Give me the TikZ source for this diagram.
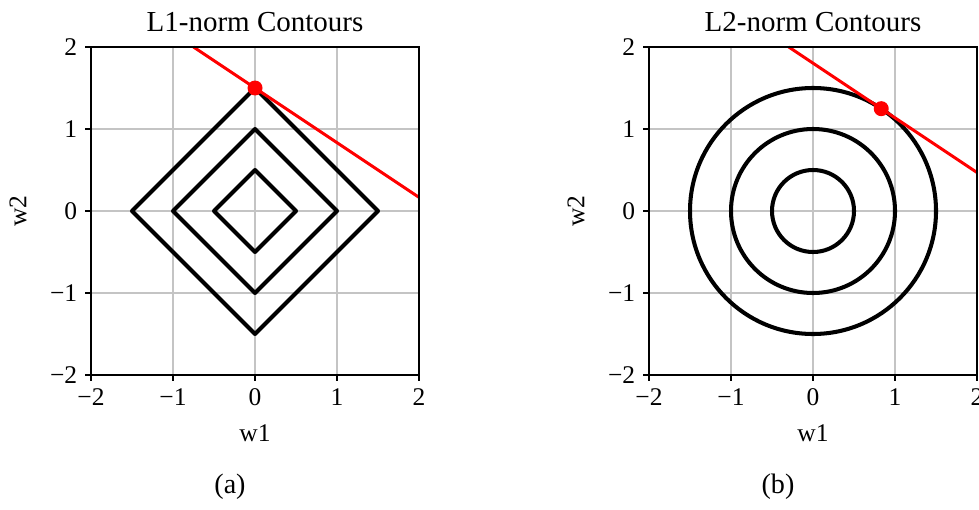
\documentclass[tikz,border=0pt]{standalone}
\usepackage{fontspec}
\setmainfont{Liberation Serif}
\begin{document}
\begin{tikzpicture}[
  grd/.style={draw=black!23, line width=0.85pt},
  spn/.style={draw=black, line width=0.85pt},
  cnt/.style={draw=black, line width=2.3pt, line join=round},
  cst/.style={draw=red, line width=1.7pt},
  opt/.style={fill=red},
  tck/.style={font=\fontsize{14.5}{17}\selectfont, inner sep=4pt},
  ttl/.style={font=\fontsize{16.5}{19}\selectfont},
  captxt/.style={font=\fontsize{16}{19}\selectfont}
]
\useasboundingbox (0,0) rectangle (19.58,10.18);
% ---------------- panel (a): L1 contours
\begin{scope}[shift={(5.10cm,5.96cm)}, x=1.64cm, y=1.64cm]
  \foreach \v in {-1,0,1} {
    \draw[grd] (\v,-2) -- (\v,2);
    \draw[grd] (-2,\v) -- (2,\v);
  }
  \foreach \r in {0.5,1,1.5}
    \draw[cnt] (\r,0) -- (0,\r) -- (-\r,0) -- (0,-\r) -- cycle;
  \coordinate (ca) at (-0.75,2);
  \coordinate (cb) at (2,0.1667);
  \draw[cst] (ca) -- (cb);
  \fill[opt] (0,1.5) circle (0.15cm);
  \draw[spn] (-2,-2) rectangle (2,2);
  \foreach \v/\t [count=\i] in {-2/−2,-1/−1,0/0,1/1,2/2} {
    \draw[spn] (\v,-2) -- ++(0,-0.12cm) node[below, tck] (axt\i) {\t};
    \draw[spn] (-2,\v) -- ++(-0.12cm,0) node[left, tck] (ayt\i) {\t};
  }
  \node[tck] (axl) at (0,-2.71) {w1};
  \node[tck, rotate=90] (ayl) at (-2.89,0) {w2};
  \node[ttl] (att) at (0,2.31) {L1-norm Contours};
\end{scope}
% ---------------- panel (b): L2 contours
\begin{scope}[shift={(16.26cm,5.96cm)}, x=1.64cm, y=1.64cm]
  \foreach \v in {-1,0,1} {
    \draw[grd] (\v,-2) -- (\v,2);
    \draw[grd] (-2,\v) -- (2,\v);
  }
  \foreach \r in {0.5,1,1.5}
    \draw[cnt] (0,0) circle (\r);
  \coordinate (cc) at (-0.296,2);
  \coordinate (cd) at (2,0.469);
  \draw[cst] (cc) -- (cd);
  \fill[opt] (0.832,1.248) circle (0.15cm);
  \draw[spn] (-2,-2) rectangle (2,2);
  \foreach \v/\t [count=\i] in {-2/−2,-1/−1,0/0,1/1,2/2} {
    \draw[spn] (\v,-2) -- ++(0,-0.12cm) node[below, tck] (bxt\i) {\t};
    \draw[spn] (-2,\v) -- ++(-0.12cm,0) node[left, tck] (byt\i) {\t};
  }
  \node[tck] (bxl) at (0,-2.71) {w1};
  \node[tck, rotate=90] (byl) at (-2.89,0) {w2};
  \node[ttl] (btt) at (0,2.31) {L2-norm Contours};
\end{scope}
% ---------------- captions
\node[captxt] (capa) at (4.60,0.44) {(a)};
\node[captxt] (capb) at (15.56,0.44) {(b)};
\end{tikzpicture}
\end{document}
